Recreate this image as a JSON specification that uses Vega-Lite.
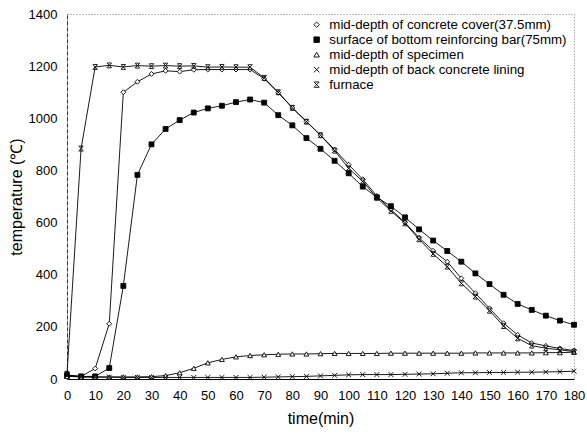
{
  "$schema": "https://vega.github.io/schema/vega-lite/v6.json",
  "autosize": "none",
  "width": 507,
  "height": 365,
  "padding": {"left": 67, "top": 14, "right": 13, "bottom": 58},
  "background": "white",
  "config": {
    "font": "Liberation Sans",
    "view": {"stroke": "#777", "strokeDash": [1, 2], "strokeWidth": 1},
    "axis": {"grid": false, "ticks": false, "labelColor": "black", "titleColor": "black", "labelFont": "Liberation Sans", "titleFont": "Liberation Sans", "titleFontWeight": "normal"}
  },
  "data": {"values": [
    {"t":0,"s":"mid-depth of concrete cover(37.5mm)","v":15},{"t":5,"s":"mid-depth of concrete cover(37.5mm)","v":10},{"t":10,"s":"mid-depth of concrete cover(37.5mm)","v":40},{"t":15,"s":"mid-depth of concrete cover(37.5mm)","v":212},{"t":20,"s":"mid-depth of concrete cover(37.5mm)","v":1100},{"t":25,"s":"mid-depth of concrete cover(37.5mm)","v":1140},{"t":30,"s":"mid-depth of concrete cover(37.5mm)","v":1170},{"t":35,"s":"mid-depth of concrete cover(37.5mm)","v":1182},{"t":40,"s":"mid-depth of concrete cover(37.5mm)","v":1179},{"t":45,"s":"mid-depth of concrete cover(37.5mm)","v":1186},{"t":50,"s":"mid-depth of concrete cover(37.5mm)","v":1187},{"t":55,"s":"mid-depth of concrete cover(37.5mm)","v":1187},{"t":60,"s":"mid-depth of concrete cover(37.5mm)","v":1187},{"t":65,"s":"mid-depth of concrete cover(37.5mm)","v":1187},{"t":70,"s":"mid-depth of concrete cover(37.5mm)","v":1152},{"t":75,"s":"mid-depth of concrete cover(37.5mm)","v":1098},{"t":80,"s":"mid-depth of concrete cover(37.5mm)","v":1040},{"t":85,"s":"mid-depth of concrete cover(37.5mm)","v":988},{"t":90,"s":"mid-depth of concrete cover(37.5mm)","v":935},{"t":95,"s":"mid-depth of concrete cover(37.5mm)","v":880},{"t":100,"s":"mid-depth of concrete cover(37.5mm)","v":822},{"t":105,"s":"mid-depth of concrete cover(37.5mm)","v":766},{"t":110,"s":"mid-depth of concrete cover(37.5mm)","v":702},{"t":115,"s":"mid-depth of concrete cover(37.5mm)","v":650},{"t":120,"s":"mid-depth of concrete cover(37.5mm)","v":600},{"t":125,"s":"mid-depth of concrete cover(37.5mm)","v":542},{"t":130,"s":"mid-depth of concrete cover(37.5mm)","v":492},{"t":135,"s":"mid-depth of concrete cover(37.5mm)","v":450},{"t":140,"s":"mid-depth of concrete cover(37.5mm)","v":386},{"t":145,"s":"mid-depth of concrete cover(37.5mm)","v":329},{"t":150,"s":"mid-depth of concrete cover(37.5mm)","v":271},{"t":155,"s":"mid-depth of concrete cover(37.5mm)","v":214},{"t":160,"s":"mid-depth of concrete cover(37.5mm)","v":169},{"t":165,"s":"mid-depth of concrete cover(37.5mm)","v":138},{"t":170,"s":"mid-depth of concrete cover(37.5mm)","v":127},{"t":175,"s":"mid-depth of concrete cover(37.5mm)","v":117},{"t":180,"s":"mid-depth of concrete cover(37.5mm)","v":109},
    {"t":0,"s":"surface of bottom reinforcing bar(75mm)","v":15},{"t":5,"s":"surface of bottom reinforcing bar(75mm)","v":10},{"t":10,"s":"surface of bottom reinforcing bar(75mm)","v":10},{"t":15,"s":"surface of bottom reinforcing bar(75mm)","v":42},{"t":20,"s":"surface of bottom reinforcing bar(75mm)","v":357},{"t":25,"s":"surface of bottom reinforcing bar(75mm)","v":783},{"t":30,"s":"surface of bottom reinforcing bar(75mm)","v":900},{"t":35,"s":"surface of bottom reinforcing bar(75mm)","v":959},{"t":40,"s":"surface of bottom reinforcing bar(75mm)","v":993},{"t":45,"s":"surface of bottom reinforcing bar(75mm)","v":1022},{"t":50,"s":"surface of bottom reinforcing bar(75mm)","v":1038},{"t":55,"s":"surface of bottom reinforcing bar(75mm)","v":1048},{"t":60,"s":"surface of bottom reinforcing bar(75mm)","v":1062},{"t":65,"s":"surface of bottom reinforcing bar(75mm)","v":1072},{"t":70,"s":"surface of bottom reinforcing bar(75mm)","v":1060},{"t":75,"s":"surface of bottom reinforcing bar(75mm)","v":1012},{"t":80,"s":"surface of bottom reinforcing bar(75mm)","v":973},{"t":85,"s":"surface of bottom reinforcing bar(75mm)","v":924},{"t":90,"s":"surface of bottom reinforcing bar(75mm)","v":883},{"t":95,"s":"surface of bottom reinforcing bar(75mm)","v":837},{"t":100,"s":"surface of bottom reinforcing bar(75mm)","v":789},{"t":105,"s":"surface of bottom reinforcing bar(75mm)","v":738},{"t":110,"s":"surface of bottom reinforcing bar(75mm)","v":697},{"t":115,"s":"surface of bottom reinforcing bar(75mm)","v":663},{"t":120,"s":"surface of bottom reinforcing bar(75mm)","v":620},{"t":125,"s":"surface of bottom reinforcing bar(75mm)","v":574},{"t":130,"s":"surface of bottom reinforcing bar(75mm)","v":531},{"t":135,"s":"surface of bottom reinforcing bar(75mm)","v":491},{"t":140,"s":"surface of bottom reinforcing bar(75mm)","v":450},{"t":145,"s":"surface of bottom reinforcing bar(75mm)","v":405},{"t":150,"s":"surface of bottom reinforcing bar(75mm)","v":364},{"t":155,"s":"surface of bottom reinforcing bar(75mm)","v":323},{"t":160,"s":"surface of bottom reinforcing bar(75mm)","v":288},{"t":165,"s":"surface of bottom reinforcing bar(75mm)","v":265},{"t":170,"s":"surface of bottom reinforcing bar(75mm)","v":243},{"t":175,"s":"surface of bottom reinforcing bar(75mm)","v":224},{"t":180,"s":"surface of bottom reinforcing bar(75mm)","v":208},
    {"t":0,"s":"mid-depth of specimen","v":10},{"t":5,"s":"mid-depth of specimen","v":8},{"t":10,"s":"mid-depth of specimen","v":8},{"t":15,"s":"mid-depth of specimen","v":8},{"t":20,"s":"mid-depth of specimen","v":8},{"t":25,"s":"mid-depth of specimen","v":8},{"t":30,"s":"mid-depth of specimen","v":9},{"t":35,"s":"mid-depth of specimen","v":13},{"t":40,"s":"mid-depth of specimen","v":24},{"t":45,"s":"mid-depth of specimen","v":41},{"t":50,"s":"mid-depth of specimen","v":62},{"t":55,"s":"mid-depth of specimen","v":75},{"t":60,"s":"mid-depth of specimen","v":85},{"t":65,"s":"mid-depth of specimen","v":90},{"t":70,"s":"mid-depth of specimen","v":93},{"t":75,"s":"mid-depth of specimen","v":95},{"t":80,"s":"mid-depth of specimen","v":96},{"t":85,"s":"mid-depth of specimen","v":96},{"t":90,"s":"mid-depth of specimen","v":97},{"t":95,"s":"mid-depth of specimen","v":98},{"t":100,"s":"mid-depth of specimen","v":98},{"t":105,"s":"mid-depth of specimen","v":98},{"t":110,"s":"mid-depth of specimen","v":98},{"t":115,"s":"mid-depth of specimen","v":99},{"t":120,"s":"mid-depth of specimen","v":99},{"t":125,"s":"mid-depth of specimen","v":99},{"t":130,"s":"mid-depth of specimen","v":99},{"t":135,"s":"mid-depth of specimen","v":99},{"t":140,"s":"mid-depth of specimen","v":99},{"t":145,"s":"mid-depth of specimen","v":100},{"t":150,"s":"mid-depth of specimen","v":100},{"t":155,"s":"mid-depth of specimen","v":100},{"t":160,"s":"mid-depth of specimen","v":100},{"t":165,"s":"mid-depth of specimen","v":100},{"t":170,"s":"mid-depth of specimen","v":101},{"t":175,"s":"mid-depth of specimen","v":101},{"t":180,"s":"mid-depth of specimen","v":103},
    {"t":0,"s":"mid-depth of back concrete lining","v":12},{"t":5,"s":"mid-depth of back concrete lining","v":8},{"t":10,"s":"mid-depth of back concrete lining","v":7},{"t":15,"s":"mid-depth of back concrete lining","v":7},{"t":20,"s":"mid-depth of back concrete lining","v":6},{"t":25,"s":"mid-depth of back concrete lining","v":6},{"t":30,"s":"mid-depth of back concrete lining","v":6},{"t":35,"s":"mid-depth of back concrete lining","v":6},{"t":40,"s":"mid-depth of back concrete lining","v":6},{"t":45,"s":"mid-depth of back concrete lining","v":6},{"t":50,"s":"mid-depth of back concrete lining","v":6},{"t":55,"s":"mid-depth of back concrete lining","v":6},{"t":60,"s":"mid-depth of back concrete lining","v":6},{"t":65,"s":"mid-depth of back concrete lining","v":6},{"t":70,"s":"mid-depth of back concrete lining","v":7},{"t":75,"s":"mid-depth of back concrete lining","v":8},{"t":80,"s":"mid-depth of back concrete lining","v":9},{"t":85,"s":"mid-depth of back concrete lining","v":10},{"t":90,"s":"mid-depth of back concrete lining","v":12},{"t":95,"s":"mid-depth of back concrete lining","v":14},{"t":100,"s":"mid-depth of back concrete lining","v":16},{"t":105,"s":"mid-depth of back concrete lining","v":17},{"t":110,"s":"mid-depth of back concrete lining","v":17},{"t":115,"s":"mid-depth of back concrete lining","v":17},{"t":120,"s":"mid-depth of back concrete lining","v":18},{"t":125,"s":"mid-depth of back concrete lining","v":19},{"t":130,"s":"mid-depth of back concrete lining","v":20},{"t":135,"s":"mid-depth of back concrete lining","v":22},{"t":140,"s":"mid-depth of back concrete lining","v":24},{"t":145,"s":"mid-depth of back concrete lining","v":24},{"t":150,"s":"mid-depth of back concrete lining","v":25},{"t":155,"s":"mid-depth of back concrete lining","v":25},{"t":160,"s":"mid-depth of back concrete lining","v":26},{"t":165,"s":"mid-depth of back concrete lining","v":26},{"t":170,"s":"mid-depth of back concrete lining","v":27},{"t":175,"s":"mid-depth of back concrete lining","v":28},{"t":180,"s":"mid-depth of back concrete lining","v":30},
    {"t":0,"s":"furnace","v":20},{"t":5,"s":"furnace","v":884},{"t":10,"s":"furnace","v":1197},{"t":15,"s":"furnace","v":1203},{"t":20,"s":"furnace","v":1197},{"t":25,"s":"furnace","v":1202},{"t":30,"s":"furnace","v":1200},{"t":35,"s":"furnace","v":1202},{"t":40,"s":"furnace","v":1200},{"t":45,"s":"furnace","v":1201},{"t":50,"s":"furnace","v":1196},{"t":55,"s":"furnace","v":1197},{"t":60,"s":"furnace","v":1196},{"t":65,"s":"furnace","v":1196},{"t":70,"s":"furnace","v":1155},{"t":75,"s":"furnace","v":1100},{"t":80,"s":"furnace","v":1040},{"t":85,"s":"furnace","v":987},{"t":90,"s":"furnace","v":935},{"t":95,"s":"furnace","v":876},{"t":100,"s":"furnace","v":808},{"t":105,"s":"furnace","v":758},{"t":110,"s":"furnace","v":695},{"t":115,"s":"furnace","v":645},{"t":120,"s":"furnace","v":597},{"t":125,"s":"furnace","v":536},{"t":130,"s":"furnace","v":480},{"t":135,"s":"furnace","v":431},{"t":140,"s":"furnace","v":367},{"t":145,"s":"furnace","v":316},{"t":150,"s":"furnace","v":262},{"t":155,"s":"furnace","v":203},{"t":160,"s":"furnace","v":156},{"t":165,"s":"furnace","v":128},{"t":170,"s":"furnace","v":118},{"t":175,"s":"furnace","v":112},{"t":180,"s":"furnace","v":105}
  ]},
  "encoding": {
    "x": {"field": "t", "type": "quantitative", "scale": {"domain": [0, 180], "nice": false},
      "axis": {"values": [0,10,20,30,40,50,60,70,80,90,100,110,120,130,140,150,160,170,180], "title": "time(min)", "labelFontSize": 13, "labelPadding": 10, "titleFontSize": 16, "titleFontWeight": "normal", "titlePadding": 8, "domainColor": "black", "domainWidth": 1, "labelFlush": false}},
    "y": {"field": "v", "type": "quantitative", "scale": {"domain": [0, 1400], "nice": false},
      "axis": {"values": [0,200,400,600,800,1000,1200,1400], "format": "d", "title": "temperature  (℃)", "labelFontSize": 13, "labelPadding": 10, "titleFontSize": 16, "titleFontWeight": "normal", "titlePadding": 4, "domainColor": "#333", "domainDash": [4, 2], "domainWidth": 1, "labelFlush": false}}
  },
  "layer": [
    {
      "mark": {"type": "line", "stroke": "black", "strokeWidth": 0.9},
      "encoding": {"detail": {"field": "s"}}
    },
    {
      "mark": {"type": "point", "filled": true, "stroke": "black", "strokeWidth": 0.9, "size": 24, "opacity": 1},
      "encoding": {
        "shape": {"field": "s", "type": "nominal",
          "scale": {"domain": ["mid-depth of concrete cover(37.5mm)", "surface of bottom reinforcing bar(75mm)", "mid-depth of specimen", "mid-depth of back concrete lining", "furnace"],
            "range": ["diamond", "square", "triangle-up", "M-1,-1L1,1M1,-1L-1,1", "M-1,-1L1,1M1,-1L-1,1M-0.8,-1L0.8,-1M-0.8,1L0.8,1"]},
          "legend": {"orient": "none", "legendX": 243, "legendY": 4, "title": null, "padding": 0,
            "labelFontSize": 13.3, "labelColor": "black", "labelLimit": 400, "labelOffset": 6, "rowPadding": 1,
            "symbolSize": 30, "symbolStrokeWidth": 0.9}
        },
        "fill": {"field": "s", "type": "nominal", "legend": null,
          "scale": {"domain": ["mid-depth of concrete cover(37.5mm)", "surface of bottom reinforcing bar(75mm)", "mid-depth of specimen", "mid-depth of back concrete lining", "furnace"],
            "range": ["white", "black", "white", "white", "white"]}}
      }
    }
  ]
}
